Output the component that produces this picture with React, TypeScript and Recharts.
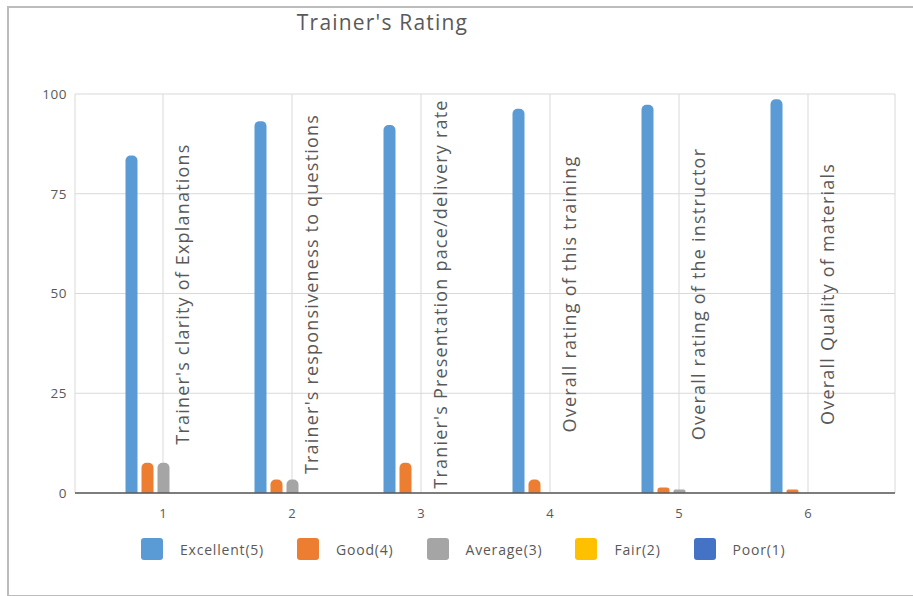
import React from 'react';
import { BarChart, Bar, XAxis, YAxis, CartesianGrid, Legend, LabelList } from 'recharts';

const tickLabels = ['1', '2', '3', '4', '5', '6'];
const questions = [
  "Trainer's clarity of Explanations",
  "Trainer's responsiveness to questions",
  "Tranier's Presentation pace/delivery rate",
  'Overall rating of this training',
  'Overall rating of the instructor',
  'Overall Quality of materials',
];
const excellent = [84.6, 93.2, 92.2, 96.3, 97.3, 98.7];
const good = [7.6, 3.4, 7.6, 3.4, 1.4, 0.9];
const average = [7.6, 3.4, 0, 0, 0.9, 0];
const fair = [0, 0, 0, 0, 0, 0];
const poor = [0, 0, 0, 0, 0, 0];
const yTicks = [0, 25, 50, 75, 100];

const seriesNames = ['Excellent(5)', 'Good(4)', 'Average(3)', 'Fair(2)', 'Poor(1)'];
const seriesColors = ['#5b9bd5', '#ed7d31', '#a5a5a5', '#ffc000', '#4472c4'];

const data = tickLabels.map((t, i) => ({
  tick: t,
  question: questions[i],
  excellent: excellent[i],
  good: good[i],
  average: average[i],
  fair: fair[i],
  poor: poor[i],
}));

const FONT = '"Open Sans", "Liberation Sans", sans-serif';
const TEXT = '#595959';
const PLOT_TOP = 94;
const PLOT_H = 399;

const QuestionLabel = (props: any) => {
  const { x, y, width, height, index, value } = props;
  const cx = Number(x) + Number(width) / 2 + 50;
  const cy = Number(y) + Number(height) - PLOT_H / 2 + 0.5;
  const label = value != null && typeof value === 'string' ? value : questions[index];
  return (
    <text
      x={cx}
      y={cy}
      transform={`rotate(-90 ${cx} ${cy})`}
      textAnchor="middle"
      dominantBaseline="central"
      fill={TEXT}
      fontSize={18}
      letterSpacing={1.2}
      fontFamily={FONT}
    >
      {label}
    </text>
  );
};

const LegendContent = () => (
  <div style={{ display: 'flex', alignItems: 'center', fontFamily: FONT }}>
    {seriesNames.map((name, i) => (
      <div key={name} style={{ display: 'flex', alignItems: 'center', marginRight: 33 }}>
        <div
          style={{
            width: 22,
            height: 22,
            background: seriesColors[i],
            borderRadius: 3,
            marginRight: 17,
          }}
        />
        <span style={{ fontSize: 14, letterSpacing: 0.8, color: TEXT }}>{name}</span>
      </div>
    ))}
  </div>
);

const keys = ['excellent', 'good', 'average', 'fair', 'poor'];

export default function App() {
  return (
    <div style={{ position: 'absolute', left: 0, top: 0, width: 913, height: 596, background: '#fff' }}>
      <div
        style={{
          position: 'absolute',
          left: 7,
          top: 6,
          width: 906,
          height: 587,
          borderLeft: '2px solid #bcbcbc',
          borderTop: '2px solid #bcbcbc',
          borderBottom: '2px solid #bcbcbc',
        }}
      />
      <div
        style={{
          position: 'absolute',
          left: 0,
          top: 8,
          width: 765,
          textAlign: 'center',
          fontFamily: FONT,
          fontSize: 21,
          letterSpacing: 1.2,
          color: TEXT,
          lineHeight: '28px',
        }}
      >
        Trainer's Rating
      </div>
      <div style={{ position: 'absolute', left: 0, top: 0 }}>
        <BarChart
          width={913}
          height={596}
          data={data}
          margin={{ top: PLOT_TOP, right: 18, bottom: 596 - PLOT_TOP - PLOT_H - 30, left: 0 }}
          barSize={12}
          barGap={4}
        >
          <CartesianGrid stroke="#d9d9d9" strokeWidth={1} />
          <XAxis
            dataKey="tick"
            height={30}
            tickLine={false}
            tickMargin={10}
            axisLine={{ stroke: '#595959', strokeWidth: 1.5 }}
            tick={{ fill: TEXT, fontSize: 13, fontFamily: FONT }}
            padding={{ left: 23.5, right: 22.5 }}
          />
          <YAxis
            width={75}
            domain={[0, 100]}
            ticks={yTicks}
            axisLine={false}
            tickLine={false}
            tick={{ fill: TEXT, fontSize: 13.5, fontFamily: FONT, letterSpacing: 0.5 }}
          />
          <Legend
            layout="horizontal"
            verticalAlign="middle"
            align="center"
            wrapperStyle={{ top: 538, left: 141, width: 700, height: 24 }}
            content={<LegendContent />}
          />
          {keys.map((k, i) => (
            <Bar
              key={k}
              dataKey={k}
              name={seriesNames[i]}
              fill={seriesColors[i]}
              radius={[5, 5, 0, 0]}
              isAnimationActive={false}
            >
              {k === 'excellent' ? <LabelList dataKey="question" content={QuestionLabel} /> : null}
            </Bar>
          ))}
        </BarChart>
      </div>
    </div>
  );
}
